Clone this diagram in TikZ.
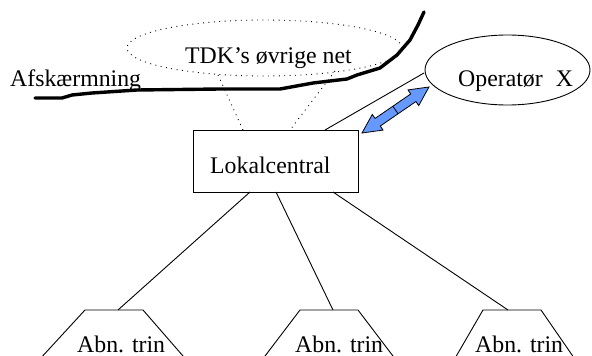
\documentclass[tikz,border=0pt]{standalone}
\usepackage{fontspec}
\setmainfont{Liberation Serif}
\usetikzlibrary{shapes.geometric,calc}
\definecolor{arrowblue}{RGB}{102,153,255}
\tikzset{
  lbl/.style={anchor=base west,inner sep=0pt,font=\fontsize{23.8}{28}\selectfont},
  thinline/.style={line width=0.9pt},
  dotline/.style={line width=0.9pt,dash pattern=on 0.9pt off 4.5pt},
  shield/.style={line width=3.4pt,line join=round,line cap=round},
}
\begin{document}
\begin{tikzpicture}[x=1pt,y=-1pt]
\useasboundingbox (0,0) rectangle (592,356);
\clip (0,0) rectangle (592,356);
% dotted cloud
\node[ellipse,draw,dotline,minimum width=275pt,minimum height=56pt,inner sep=0pt] (tdk) at (264.5,48) {};
\node[lbl] (tdkl) at (185,63) {TDK’s øvrige net};
% shield
\node[lbl] (afs) at (10,86) {Afskærmning};
\draw[shield] (35,98) -- (62,98) -- (72,95) -- (92,93) -- (137,90) -- (220,89) -- (280,89)
  -- (313,83) -- (347,79) -- (357,75) -- (380,68) -- (397,55) -- (410,40) -- (418,25) -- (424,12);
% box
\node[draw,thinline,minimum width=165pt,minimum height=62pt,inner sep=0pt] (lc) at (275.5,161) {};
\node[lbl] (lcl) at (210,173) {Lokalcentral};
% operator
\node[ellipse,draw,thinline,minimum width=165pt,minimum height=70pt,inner sep=0pt] (op) at (507.5,70) {};
\node[lbl] (opl) at (458,86) {Operatør\hspace{0.3em} X};
% dotted links
\coordinate (d1a) at (218,75); \coordinate (d1b) at (243,130);
\coordinate (d2a) at (335,71); \coordinate (d2b) at (290,130);
\draw[dotline] (d1a) -- (d1b);
\draw[dotline] (d2a) -- (d2b);
% link to operator
\coordinate (lcop) at (325,130);
\coordinate (opin) at (424,73);
\draw[thinline] (lcop) -- (opin);
% blue double arrow
\begin{scope}[shift={(362,133)},x={(0.824pt,0.566pt)},y={(0.566pt,-0.824pt)}]
\fill[arrowblue,draw=black,line width=0.8pt,line join=miter]
  (0,0) -- (19,9.5) -- (19,4.6) -- (62.3,4.6) -- (62.3,9.5) -- (81.3,0)
  -- (62.3,-9.5) -- (62.3,-4.6) -- (19,-4.6) -- (19,-9.5) -- cycle;
\draw[line width=0.8pt] (40.6,-4.6) -- (40.6,4.6);
\end{scope}
% trapezoids
\coordinate (t1) at (118,310); \coordinate (t2) at (333,310); \coordinate (t3) at (508,310);
\coordinate (b1) at (250,192); \coordinate (b2) at (276,192); \coordinate (b3) at (333,192);
\draw[thinline] (39,360) -- (85,310) -- (143,310) -- (186.5,360);
\draw[thinline] (262,360) -- (300,310) -- (358,310) -- (396,360);
\draw[thinline] (454,360) -- (483,310) -- (541,310) -- (575.5,360);
\node[lbl] (ab1) at (77,352) {Abn. trin};
\node[lbl] (ab2) at (295,352) {Abn. trin};
\node[lbl] (ab3) at (475,352) {Abn. trin};
\draw[thinline] (b1) -- (t1);
\draw[thinline] (b2) -- (t2);
\draw[thinline] (b3) -- (t3);
\end{tikzpicture}
\end{document}
